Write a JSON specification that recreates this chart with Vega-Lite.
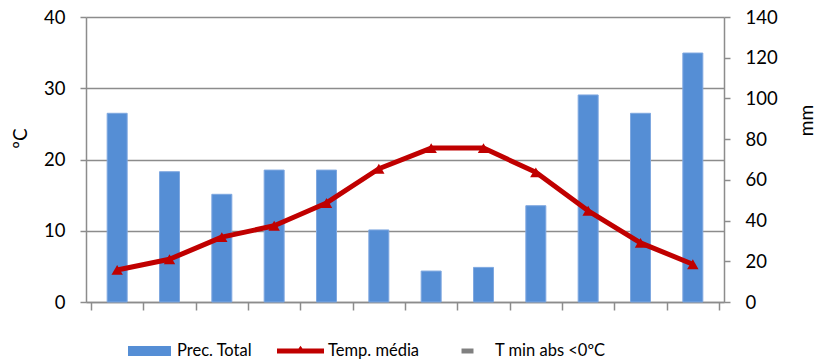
{
  "$schema": "https://vega.github.io/schema/vega-lite/v6.json",
  "width": 638,
  "height": 285,
  "autosize": {"type": "none"},
  "padding": {"left": 86, "top": 17, "right": 91, "bottom": 60},
  "background": "white",
  "config": {
    "view": {"stroke": null},
    "font": "Lato",
    "axis": {
      "labelFont": "Lato",
      "titleFont": "Lato",
      "labelColor": "#000000",
      "titleColor": "#000000",
      "domainColor": "#8C8C8C",
      "tickColor": "#8C8C8C",
      "gridColor": "#8C8C8C",
      "domainWidth": 1.5,
      "tickWidth": 1.5,
      "gridWidth": 1.5,
      "labelFontSize": 18.5,
      "titleFontSize": 19,
      "titleFontWeight": "normal"
    },
    "legend": {
      "orient": "none",
      "legendX": 40,
      "legendY": 310.5,
      "direction": "horizontal",
      "padding": 0,
      "symbolSize": 2209,
      "symbolStrokeWidth": 0,
      "symbolOpacity": 1,
      "labelFont": "Lato",
      "labelFontSize": 16.5,
      "labelColor": "#000000",
      "labelOffset": 4,
      "columnPadding": 24
    }
  },
  "data": {
    "values": [
      {"mes": 1, "prec": 92.7, "temp": 4.5, "tmin": null},
      {"mes": 2, "prec": 64.0, "temp": 6.0, "tmin": null},
      {"mes": 3, "prec": 52.9, "temp": 9.1, "tmin": null},
      {"mes": 4, "prec": 64.8, "temp": 10.7, "tmin": null},
      {"mes": 5, "prec": 64.8, "temp": 13.9, "tmin": null},
      {"mes": 6, "prec": 35.4, "temp": 18.7, "tmin": null},
      {"mes": 7, "prec": 15.2, "temp": 21.6, "tmin": null},
      {"mes": 8, "prec": 17.0, "temp": 21.6, "tmin": null},
      {"mes": 9, "prec": 47.3, "temp": 18.2, "tmin": null},
      {"mes": 10, "prec": 101.7, "temp": 12.8, "tmin": null},
      {"mes": 11, "prec": 92.7, "temp": 8.3, "tmin": null},
      {"mes": 12, "prec": 122.3, "temp": 5.3, "tmin": null}
    ]
  },
  "encoding": {
    "x": {
      "field": "mes",
      "type": "quantitative",
      "scale": {"domain": [0.5, 12.5], "nice": false, "zero": false},
      "axis": {
        "values": [0.5, 1.5, 2.5, 3.5, 4.5, 5.5, 6.5, 7.5, 8.5, 9.5, 10.5, 11.5, 12.5],
        "labels": false,
        "grid": false,
        "tickSize": 8,
        "title": null
      }
    }
  },
  "layer": [
    {
      "mark": {"type": "point", "filled": true, "size": 60},
      "encoding": {
        "y": {
          "field": "tmin",
          "type": "quantitative",
          "scale": {"domain": [0, 40], "nice": false},
          "axis": null
        },
        "color": {
          "datum": "T min abs <0ºC",
          "type": "nominal",
          "scale": {
            "domain": ["Prec. Total", "Temp. média", "T min abs <0ºC"],
            "range": ["#558ED5", "#C00000", "#808080"]
          },
          "legend": {"title": null}
        },
        "shape": {
          "datum": "T min abs <0ºC",
          "type": "nominal",
          "scale": {
            "domain": ["Prec. Total", "Temp. média", "T min abs <0ºC"],
            "range": [
              "M-0.915,-0.213H0.915V0.213H-0.915Z",
              "M-1,-0.106H1V0.106H-1Z M-0.09,-0.1L0,-0.22L0.09,-0.1Z",
              "M-0.255,-0.106H0.255V0.106H-0.255Z"
            ]
          },
          "legend": {"title": null}
        }
      }
    },
    {
      "mark": {"type": "bar", "width": 20, "stroke": "#7FA8E0", "strokeWidth": 1},
      "encoding": {
        "y": {
          "field": "prec",
          "type": "quantitative",
          "scale": {"domain": [0, 140], "nice": false},
          "axis": {
            "orient": "right",
            "values": [0, 20, 40, 60, 80, 100, 120, 140],
            "grid": false,
            "tickSize": 6,
            "labelPadding": 15,
            "title": "mm",
            "titleAngle": -90,
            "titleAlign": "center",
            "titleBaseline": "middle",
            "titleX": 82,
            "titleY": 103
          }
        },
        "color": {"datum": "Prec. Total", "type": "nominal", "legend": null}
      }
    },
    {
      "mark": {
        "type": "line",
        "strokeWidth": 5,
        "strokeJoin": "round",
        "point": {"shape": "triangle-up", "size": 130, "filled": true}
      },
      "encoding": {
        "y": {
          "field": "temp",
          "type": "quantitative",
          "scale": {"domain": [0, 40], "nice": false},
          "axis": {
            "orient": "left",
            "values": [0, 10, 20, 30, 40],
            "grid": true,
            "tickSize": 6,
            "labelPadding": 15,
            "title": "ºC",
            "titleAngle": -90,
            "titleAlign": "center",
            "titleBaseline": "middle",
            "titleX": -66,
            "titleY": 121
          }
        },
        "color": {"datum": "Temp. média", "type": "nominal", "legend": null}
      }
    }
  ],
  "resolve": {"scale": {"y": "independent"}, "axis": {"y": "independent"}}
}
